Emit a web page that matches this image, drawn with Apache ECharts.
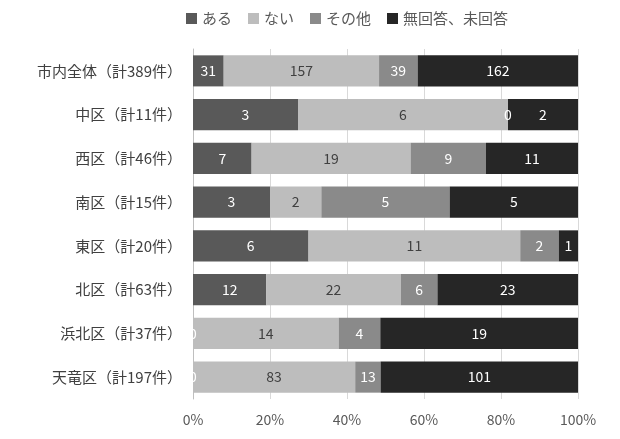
<!DOCTYPE html>
<html>
<head>
    <meta charset="utf-8">
    <title>ECharts</title>
    <script src="https://cdn.jsdelivr.net/npm/echarts@6/dist/echarts.min.js"></script>
    <style type="text/css">
        html, body { margin: 0; padding: 0; background: #fff; }
        #main { width: 620px; height: 439px; }
    </style>
</head>
<body>
<div id="main"></div>
<script type="text/javascript">
    // 区ごとの件数（上から順）
    var categories = ['市内全体（計389件）', '中区（計11件）', '西区（計46件）', '南区（計15件）',
        '東区（計20件）', '北区（計63件）', '浜北区（計37件）', '天竜区（計197件）'];
    var seriesNames = ['ある', 'ない', 'その他', '無回答、未回答'];
    var aru = [31, 3, 7, 3, 6, 12, 0, 0];
    var nai = [157, 6, 19, 2, 11, 22, 14, 83];
    var sonota = [39, 0, 9, 5, 2, 6, 4, 13];
    var mukaito = [162, 2, 11, 5, 1, 23, 19, 101];
    var xTicks = [0, 20, 40, 60, 80, 100];

    var raw = [aru, nai, sonota, mukaito];
    var colors = ['#595959', '#bdbdbd', '#8a8a8a', '#262626'];
    var labelColors = ['#ffffff', '#404040', '#ffffff', '#ffffff'];

    var totals = categories.map(function (c, i) {
        return aru[i] + nai[i] + sonota[i] + mukaito[i];
    });

    var series = raw.map(function (arr, s) {
        return {
            name: seriesNames[s],
            type: 'bar',
            stack: 'all',
            barWidth: '71%',
            itemStyle: {color: colors[s]},
            label: {
                show: true,
                color: labelColors[s],
                fontSize: 14,
                fontFamily: 'Noto Sans CJK JP',
                formatter: function (p) { return arr[p.dataIndex]; }
            },
            data: arr.map(function (v, i) { return v / totals[i] * 100; })
        };
    });

    var chart = echarts.init(document.getElementById('main'));
    chart.setOption({
        animation: false,
        textStyle: {fontFamily: 'Noto Sans CJK JP'},
        legend: {
            top: 6,
            left: 181,
            itemWidth: 11,
            itemHeight: 11,
            itemGap: 16,
            icon: 'rect',
            textStyle: {color: '#595959', fontSize: 15},
            data: seriesNames
        },
        grid: {left: 193, right: 42, top: 49, bottom: 40, containLabel: false},
        xAxis: {
            type: 'value',
            min: xTicks[0],
            max: xTicks[xTicks.length - 1],
            interval: 20,
            axisLine: {show: false},
            axisTick: {show: false},
            axisLabel: {color: '#595959', fontSize: 14, margin: 14, formatter: '{value}%'},
            splitLine: {lineStyle: {color: '#d9d9d9'}}
        },
        yAxis: {
            type: 'category',
            inverse: true,
            data: categories,
            axisLine: {lineStyle: {color: '#bfbfbf'}},
            axisTick: {show: false},
            axisLabel: {color: '#404040', fontSize: 15, margin: 11}
        },
        series: series
    });
</script>
</body>
</html>
